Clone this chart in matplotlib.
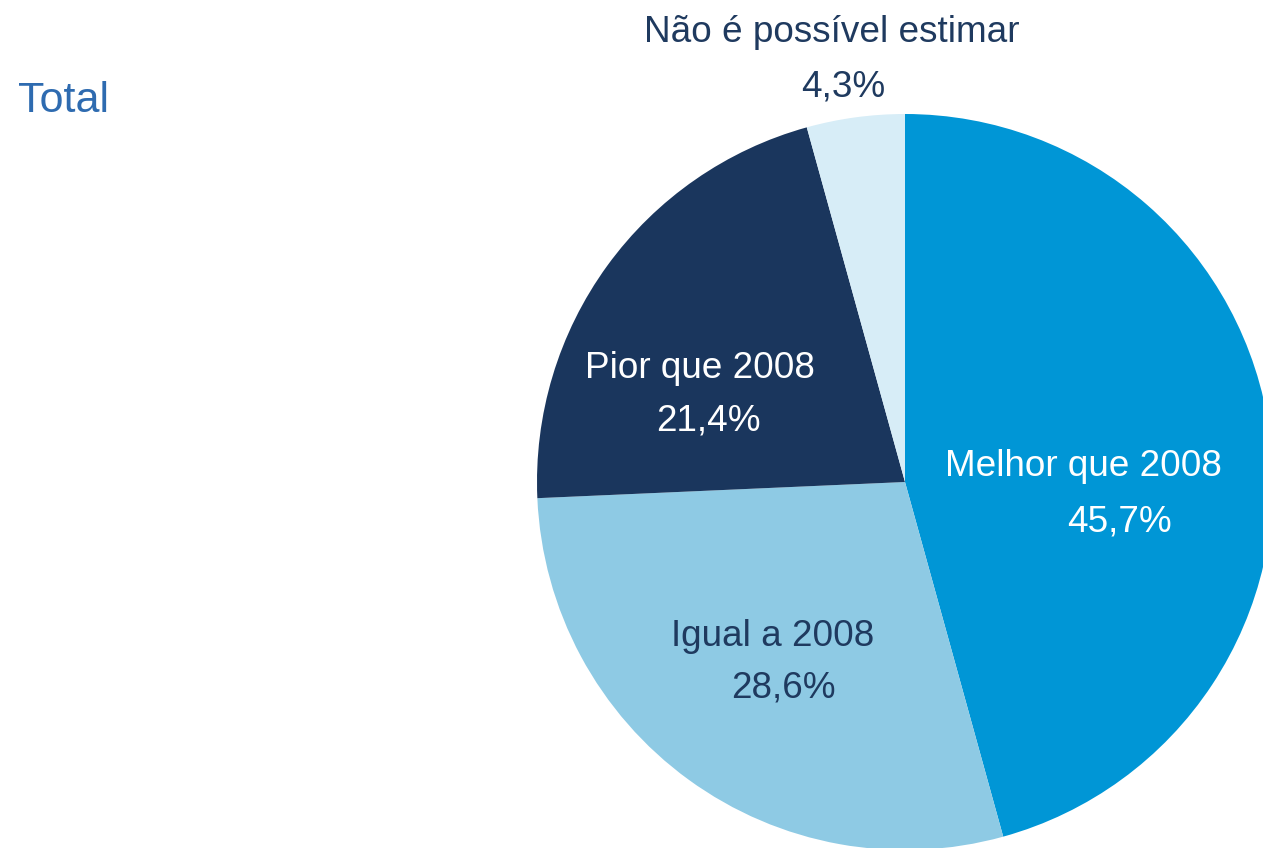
import matplotlib.pyplot as plt

plt.rcParams['font.family'] = ['Liberation Sans', 'DejaVu Sans']

categories = ["Melhor que 2008", "Igual a 2008", "Pior que 2008", "Não é possível estimar"]
shares = [45.7, 28.6, 21.4, 4.3]
colors = ["#0096d6", "#8ecae4", "#1a365d", "#d7edf7"]
text_colors = ["white", "#1f3a5f", "white", "#1f3a5f"]

# label anchor points in pixel coords (x, y from top) for name and value
name_pos = [(1083, 466), (773, 637), (700, 369), (832, 33)]
value_pos = [(1120, 522), (783, 688), (708, 421), (843, 87)]

W, H = 1263, 848
fig = plt.figure(figsize=(W / 100, H / 100), dpi=100)
ax = fig.add_axes([0, 0, 1, 1])

ax.pie(shares, colors=colors, startangle=90, counterclock=False,
       center=(905, H - 482), radius=368, frame=True)
ax.set_xlim(0, W)
ax.set_ylim(0, H)
ax.set_aspect("equal")
ax.axis("off")

for cat, val, tc, (nx, ny), (vx, vy) in zip(categories, shares, text_colors, name_pos, value_pos):
    ax.text(nx, H - ny, cat, color=tc, fontsize=26.6, ha="center", va="center")
    ax.text(vx, H - vy, f"{val:.1f}%".replace(".", ","), color=tc, fontsize=26.6,
            ha="center", va="center")

ax.text(18, H - 101, "Total", color="#2e6bb0", fontsize=31, ha="left", va="center")

fig.savefig("out.png", dpi=100)
plt.close(fig)
